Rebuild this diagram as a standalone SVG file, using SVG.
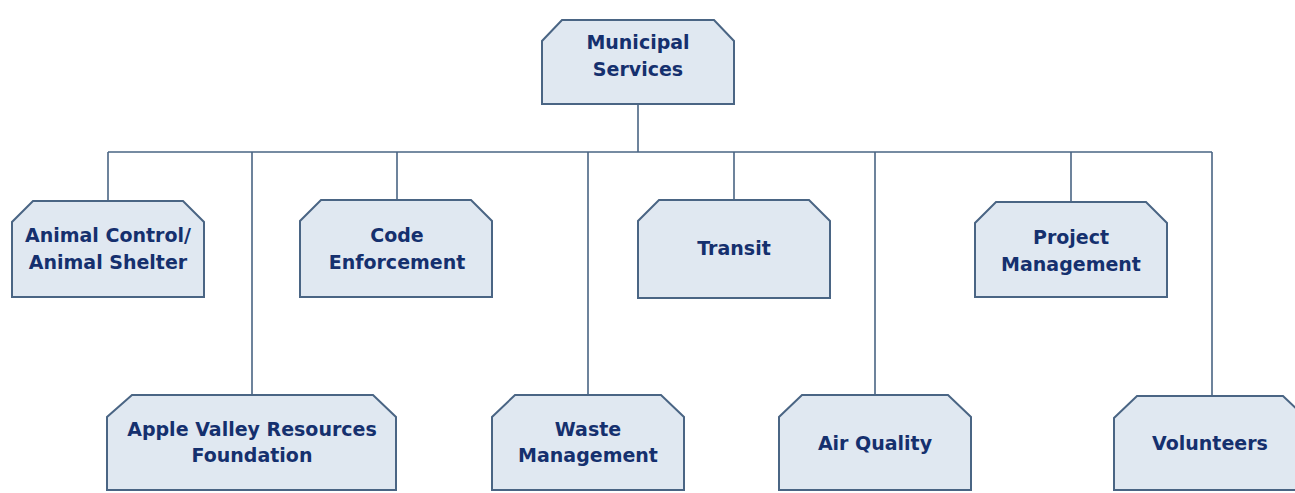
<svg xmlns="http://www.w3.org/2000/svg" width="1295" height="493" viewBox="0 0 1295 493">
<style>
.box{fill:#e0e8f1;stroke:#4a6584;stroke-width:2}
.lbl{font-family:"DejaVu Sans",sans-serif;font-weight:bold;font-size:19px;fill:#15306e;text-anchor:middle}
.con{stroke:#4a6584;stroke-width:1.6;fill:none}
</style>
<rect width="1295" height="493" fill="#ffffff"/>
<g id="connectors">
<path class="con" d="M638 104V152M108 152H1212M108 152V201M252 152V395M397 152V200M588 152V395M734 152V200M875 152V395M1071 152V202M1212 152V396"/>
</g>
<g id="municipal">
<path class="box" d="M562 20H714L734 41V104H542V41Z"/>
<text class="lbl" x="638" y="49">Municipal</text>
<text class="lbl" x="638" y="76">Services</text>
</g>
<g id="animal">
<path class="box" d="M33 201H183L204 222V297H12V222Z"/>
<text class="lbl" x="108" y="242">Animal Control/</text>
<text class="lbl" x="108" y="269">Animal Shelter</text>
</g>
<g id="code">
<path class="box" d="M321 200H471L492 221V297H300V221Z"/>
<text class="lbl" x="397" y="242">Code</text>
<text class="lbl" x="397" y="269">Enforcement</text>
</g>
<g id="transit">
<path class="box" d="M659 200H809L830 221V298H638V221Z"/>
<text class="lbl" x="734" y="255">Transit</text>
</g>
<g id="project">
<path class="box" d="M996 202H1146L1167 223V297H975V223Z"/>
<text class="lbl" x="1071" y="244">Project</text>
<text class="lbl" x="1071" y="271">Management</text>
</g>
<g id="apple">
<path class="box" d="M132 395H373L396 417V490H107V417Z"/>
<text class="lbl" x="252" y="436">Apple Valley Resources</text>
<text class="lbl" x="252" y="462">Foundation</text>
</g>
<g id="waste">
<path class="box" d="M515 395H661L684 417V490H492V417Z"/>
<text class="lbl" x="588" y="436">Waste</text>
<text class="lbl" x="588" y="462">Management</text>
</g>
<g id="air">
<path class="box" d="M802 395H948L971 417V490H779V417Z"/>
<text class="lbl" x="875" y="450">Air Quality</text>
</g>
<g id="volunteers">
<path class="box" d="M1137 396H1283L1306 418V490H1114V418Z"/>
<text class="lbl" x="1210" y="450">Volunteers</text>
</g>
</svg>
